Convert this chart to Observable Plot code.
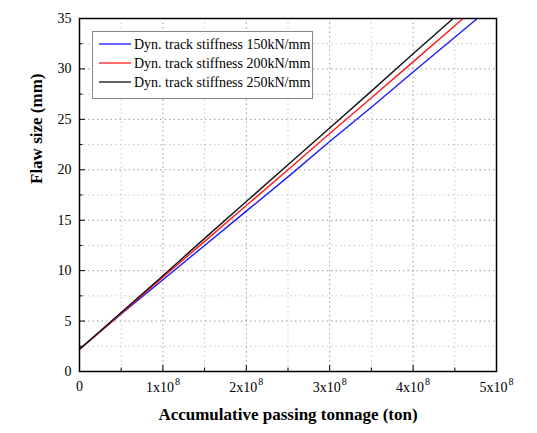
<!DOCTYPE html>
<html>
<head>
<meta charset="utf-8">
<script src="https://cdn.jsdelivr.net/npm/d3@7"></script>
<script src="https://cdn.jsdelivr.net/npm/@observablehq/plot@0.6"></script>
<style>
  html, body { margin: 0; padding: 0; background: #fff; }
  #chart svg { display: block; }
</style>
</head>
<body>
<div id="chart"></div>
<script>
// ---- data ----
const seriesNames = [
  "Dyn. track stiffness 150kN/mm",
  "Dyn. track stiffness 200kN/mm",
  "Dyn. track stiffness 250kN/mm"
];
const seriesColors = ["#1a1aff", "#ff1a1a", "#111111"];

// accumulative passing tonnage (ton) vs flaw size (mm)
const x150 = [0, 0.5e8, 1e8, 1.5e8, 2e8, 2.5e8, 3e8, 3.5e8, 4e8, 4.77e8];
const y150 = [2.2, 5.7, 9.1, 12.5, 15.9, 19.3, 22.8, 26.2, 29.7, 35.0];
const x200 = [0, 0.5e8, 1e8, 1.5e8, 2e8, 2.5e8, 3e8, 3.5e8, 4e8, 4.60e8];
const y200 = [2.2, 5.75, 9.35, 12.9, 16.45, 20.0, 23.6, 27.15, 30.7, 35.0];
const x250 = [0, 0.5e8, 1e8, 1.5e8, 2e8, 2.5e8, 3e8, 3.5e8, 4e8, 4.48e8];
const y250 = [2.2, 5.85, 9.5, 13.2, 16.85, 20.5, 24.15, 27.8, 31.5, 35.0];

const xMajor = [0, 1e8, 2e8, 3e8, 4e8, 5e8];
const xMinor = [0.5e8, 1.5e8, 2.5e8, 3.5e8, 4.5e8];
const xTickBase = ["0", "1x10", "2x10", "3x10", "4x10", "5x10"];
const xTickExp = ["", "8", "8", "8", "8", "8"];
const yMajor = [0, 5, 10, 15, 20, 25, 30, 35];
const yMinor = [2.5, 7.5, 12.5, 17.5, 22.5, 27.5, 32.5];
const xTitle = "Accumulative passing tonnage (ton)";
const yTitle = "Flaw size (mm)";

// ---- build table ----
const rows = [];
[[x150, y150], [x200, y200], [x250, y250]].forEach(([xs, ys], i) => {
  xs.forEach((x, j) => rows.push({series: seriesNames[i], x, y: ys[j]}));
});
const xTicks = xMajor.map((v, i) => ({v, base: xTickBase[i], exp: xTickExp[i]}));
const xTicksZero = xTicks.filter(d => !d.exp);
const xTicksPow = xTicks.filter(d => d.exp);

const font = "'Liberation Serif', 'Times New Roman', serif";

const chart = Plot.plot({
  width: 537,
  height: 433,
  marginLeft: 79,
  marginRight: 41,
  marginTop: 18,
  marginBottom: 62,
  style: {fontFamily: font, fontSize: "14px", background: "#fff", color: "#000"},
  x: {domain: [0, 5e8], axis: null},
  y: {domain: [0, 35], axis: null},
  color: {domain: seriesNames, range: seriesColors},
  marks: [
    Plot.gridY(yMinor, {stroke: "#c8c8c8", strokeOpacity: 1, strokeDasharray: "1.5,3"}),
    Plot.gridX(xMinor, {stroke: "#c8c8c8", strokeOpacity: 1, strokeDasharray: "1.5,3"}),
    Plot.gridY(yMajor.slice(1, -1), {stroke: "#9a9a9a", strokeOpacity: 1, strokeDasharray: "1.5,3"}),
    Plot.gridX(xMajor.slice(1, -1), {stroke: "#9a9a9a", strokeOpacity: 1, strokeDasharray: "1.5,3"}),
    Plot.line(rows, {x: "x", y: "y", z: "series", stroke: "series", strokeWidth: 1.4, curve: "linear"}),
    // inward ticks
    Plot.axisY(yMajor, {anchor: "left", label: null, tickSize: -6, tickFormat: () => "", stroke: "#000"}),
    Plot.axisY(yMinor, {anchor: "left", label: null, tickSize: -3.5, tickFormat: () => "", stroke: "#000"}),
    Plot.axisX(xMajor, {anchor: "bottom", label: null, tickSize: -6, tickFormat: () => "", stroke: "#000"}),
    Plot.axisX(xMinor, {anchor: "bottom", label: null, tickSize: -3.5, tickFormat: () => "", stroke: "#000"}),
    // tick labels
    Plot.axisY(yMajor, {anchor: "left", label: null, tickSize: 0, tickPadding: 8, fontSize: 14}),
    Plot.text(xTicksZero, {x: "v", text: "base", frameAnchor: "bottom", lineAnchor: "middle", dy: 15, fontSize: 14, textAnchor: "middle"}),
    Plot.text(xTicksPow, {x: "v", text: "base", frameAnchor: "bottom", lineAnchor: "middle", dy: 16, dx: -3, fontSize: 14, textAnchor: "middle"}),
    Plot.text(xTicksPow, {x: "v", text: "exp", frameAnchor: "bottom", lineAnchor: "middle", dy: 10, dx: 12, fontSize: 10, textAnchor: "start"}),
    // titles
    Plot.text([xTitle], {frameAnchor: "bottom", lineAnchor: "middle", dy: 43, fontSize: 17, fontWeight: "bold"}),
    Plot.text([yTitle], {frameAnchor: "left", dx: -43, dy: -11, rotate: -90, fontSize: 17, fontWeight: "bold"}),
    Plot.frame({stroke: "#000", strokeWidth: 1.5})
  ]
});

document.getElementById("chart").appendChild(chart);

// ---- legend inside the plot area ----
const svg = d3.select(chart.tagName.toLowerCase() === "svg" ? chart : chart.querySelector("svg"));
const lg = svg.append("g").attr("font-family", font).attr("font-size", 14).attr("text-anchor", "start");
lg.append("rect").attr("x", 92.5).attr("y", 31.5).attr("width", 220).attr("height", 67)
  .attr("fill", "#fff").attr("stroke", "#888").attr("stroke-width", 1);
seriesNames.forEach((name, i) => {
  const yy = 44 + i * 19;
  lg.append("line").attr("x1", 99).attr("x2", 131).attr("y1", yy).attr("y2", yy)
    .attr("stroke", seriesColors[i]).attr("stroke-width", 1.3);
  lg.append("text").attr("x", 134).attr("y", yy).attr("dy", "0.35em")
    .attr("text-anchor", "start").attr("fill", "#000").text(name);
});
</script>
</body>
</html>
